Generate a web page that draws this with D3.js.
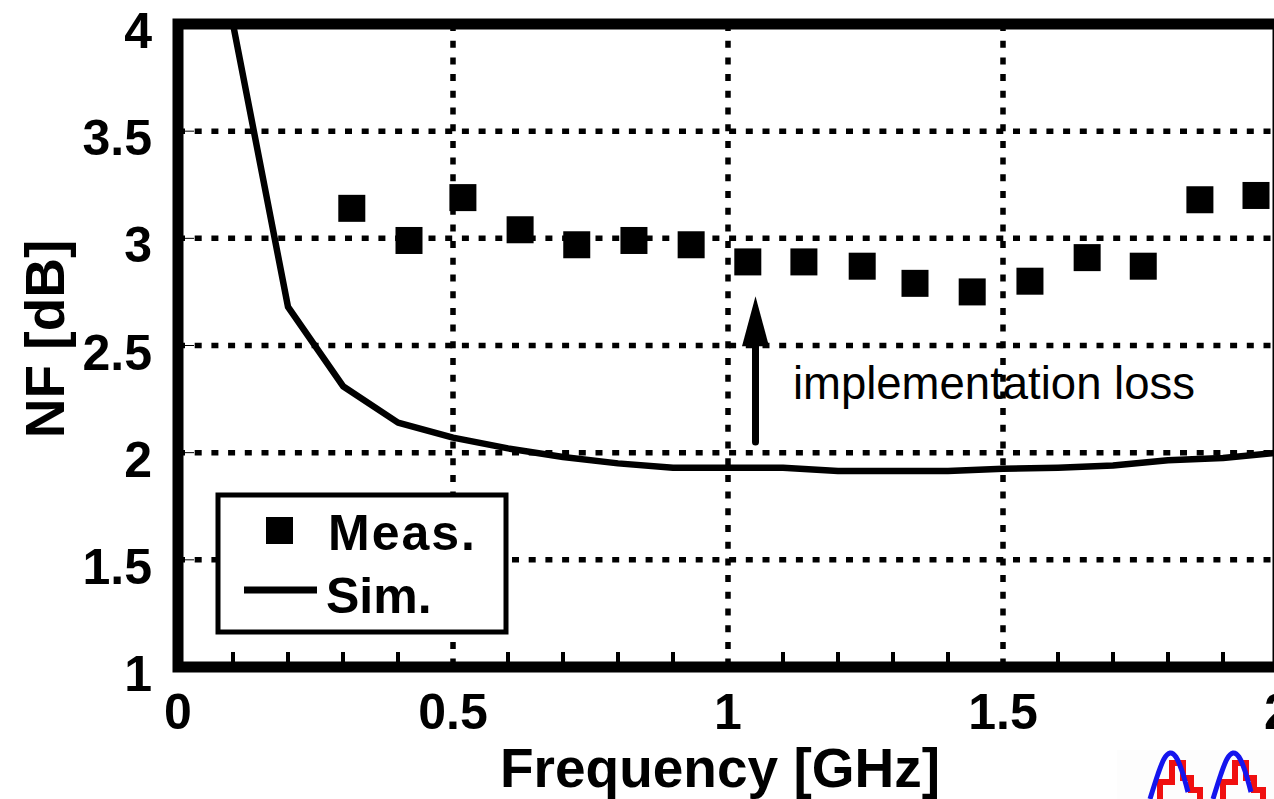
<!DOCTYPE html>
<html>
<head>
<meta charset="utf-8">
<script src="https://cdn.jsdelivr.net/npm/d3@7"></script>
<style>
  html, body { margin: 0; padding: 0; background: #fff; }
  svg { display: block; }
  text { font-family: "Liberation Sans", Arial, Helvetica, sans-serif; }
</style>
</head>
<body>
<svg id="chart" width="1274" height="799"></svg>
<script>
// ---------------- data ----------------
const xTickValues = [0, 0.5, 1, 1.5, 2];
const xTickLabels = ["0", "0.5", "1", "1.5", "2"];
const yTickValues = [1, 1.5, 2, 2.5, 3, 3.5, 4];
const yTickLabels = ["1", "1.5", "2", "2.5", "3", "3.5", "4"];
const xMinorTicks = [0.1,0.2,0.3,0.4,0.6,0.7,0.8,0.9,1.1,1.2,1.3,1.4,1.6,1.7,1.8,1.9];

const measFreq = [0.316, 0.42, 0.518, 0.622, 0.725, 0.829, 0.933, 1.036, 1.138, 1.244, 1.34, 1.444, 1.549, 1.653, 1.755, 1.858, 1.96];
const measNF   = [3.14, 2.99, 3.19, 3.04, 2.97, 2.99, 2.97, 2.89, 2.89, 2.87, 2.79, 2.75, 2.80, 2.91, 2.87, 3.18, 3.20];

const simFreq = [0.1, 0.2, 0.3, 0.4, 0.5, 0.6, 0.7, 0.8, 0.9, 1.0, 1.1, 1.2, 1.3, 1.4, 1.5, 1.6, 1.7, 1.8, 1.9, 2.0];
const simNF   = [4.0, 2.68, 2.31, 2.14, 2.07, 2.02, 1.98, 1.95, 1.93, 1.93, 1.93, 1.915, 1.915, 1.915, 1.925, 1.93, 1.94, 1.965, 1.975, 2.0];

const seriesNames = ["Meas.", "Sim."];
const xTitle = "Frequency [GHz]";
const yTitle = "NF [dB]";
const annotationText = "implementation loss";
const arrowFreq = 1.05, arrowFrom = 2.05, arrowTo = 2.73;
const annotationFreq = 1.118, annotationNF = 2.25;

// ---------------- layout ----------------
const svg = d3.select("#chart");
const x = d3.scaleLinear().domain([0, 2]).range([178, 1278]);
const y = d3.scaleLinear().domain([1, 4]).range([667, 24]);

// gridlines
const grid = svg.append("g");
grid.selectAll("line.h").data(yTickValues.filter(v => v > 1 && v < 4)).enter()
  .append("line")
  .attr("x1", x(0)).attr("x2", x(2))
  .attr("y1", d => y(d)).attr("y2", d => y(d))
  .attr("stroke", "#000").attr("stroke-width", 5.5)
  .attr("stroke-dasharray", "7 9.7");
grid.selectAll("line.v").data(xTickValues.filter(v => v > 0 && v < 2)).enter()
  .append("line")
  .attr("x1", d => x(d)).attr("x2", d => x(d))
  .attr("y1", y(4)).attr("y2", y(1))
  .attr("stroke", "#000").attr("stroke-width", 5.5)
  .attr("stroke-dasharray", "7 9.7");

// thin left ticks
grid.selectAll("line.lt").data(yTickValues.filter(v => v > 1 && v < 4)).enter()
  .append("line")
  .attr("x1", x(0)).attr("x2", x(0) + 16)
  .attr("y1", d => y(d)).attr("y2", d => y(d))
  .attr("stroke", "#000").attr("stroke-width", 1);

// bottom minor ticks
svg.append("g").selectAll("line").data(xMinorTicks).enter()
  .append("line")
  .attr("x1", d => x(d)).attr("x2", d => x(d))
  .attr("y1", y(1)).attr("y2", y(1) - 15)
  .attr("stroke", "#000").attr("stroke-width", 4);

// simulation line
const simData = simFreq.map((f, i) => [f, simNF[i]]);
svg.append("path")
  .datum(simData)
  .attr("fill", "none")
  .attr("stroke", "#000")
  .attr("stroke-width", 6.5)
  .attr("stroke-linejoin", "round")
  .attr("d", d3.line().x(d => x(d[0])).y(d => y(d[1])));

// measured squares
const sq = 27;
svg.append("g").selectAll("rect").data(measFreq.map((f, i) => [f, measNF[i]])).enter()
  .append("rect")
  .attr("x", d => x(d[0]) - sq / 2)
  .attr("y", d => y(d[1]) - sq / 2)
  .attr("width", sq).attr("height", sq)
  .attr("fill", "#000");

// frame
svg.append("rect")
  .attr("x", x(0)).attr("y", y(4))
  .attr("width", x(2) - x(0)).attr("height", y(1) - y(4))
  .attr("fill", "none").attr("stroke", "#000").attr("stroke-width", 11);

// tick labels
svg.append("g").selectAll("text").data(yTickValues).enter()
  .append("text")
  .attr("x", 152).attr("y", d => y(d) + 24)
  .attr("text-anchor", "end")
  .attr("font-size", 50).attr("font-weight", "bold")
  .text((d, i) => yTickLabels[i]);
svg.append("g").selectAll("text").data(xTickValues).enter()
  .append("text")
  .attr("x", d => x(d)).attr("y", 729)
  .attr("text-anchor", "middle")
  .attr("font-size", 50).attr("font-weight", "bold")
  .text((d, i) => xTickLabels[i]);

// axis titles
svg.append("text")
  .attr("x", 720).attr("y", 787)
  .attr("text-anchor", "middle")
  .attr("font-size", 55).attr("font-weight", "bold")
  .text(xTitle);
svg.append("text")
  .attr("transform", "translate(64,339) rotate(-90)")
  .attr("text-anchor", "middle")
  .attr("font-size", 55).attr("font-weight", "bold")
  .text(yTitle);

// legend
const lg = svg.append("g");
lg.append("rect")
  .attr("x", 218).attr("y", 495).attr("width", 288).attr("height", 137)
  .attr("fill", "#fff").attr("stroke", "#000").attr("stroke-width", 5);
lg.append("rect").attr("x", 266).attr("y", 517).attr("width", 27).attr("height", 27).attr("fill", "#000");
lg.append("line").attr("x1", 244).attr("x2", 317).attr("y1", 590).attr("y2", 590)
  .attr("stroke", "#000").attr("stroke-width", 7);
lg.append("text").attr("x", 328).attr("y", 550)
  .attr("font-size", 50).attr("font-weight", "bold").attr("letter-spacing", 2)
  .text(seriesNames[0]);
lg.append("text").attr("x", 326).attr("y", 613)
  .attr("font-size", 50).attr("font-weight", "bold")
  .text(seriesNames[1]);

// annotation arrow
const ax = x(arrowFreq);
svg.append("line")
  .attr("x1", ax).attr("x2", ax)
  .attr("y1", y(arrowFrom)).attr("y2", y(arrowTo) + 48)
  .attr("stroke", "#000").attr("stroke-width", 7).attr("stroke-linecap", "round");
svg.append("path")
  .attr("d", `M${ax},${y(arrowTo)} L${ax - 13.5},${y(arrowTo) + 50} L${ax + 13.5},${y(arrowTo) + 50} Z`)
  .attr("fill", "#000");
svg.append("text")
  .attr("x", x(annotationFreq)).attr("y", y(annotationNF))
  .attr("font-size", 45.5)
  .text(annotationText);

// watermark logo (bottom-right)
const logo = svg.append("g");
logo.append("rect").attr("x", 1117).attr("y", 750).attr("width", 160).attr("height", 60)
  .attr("fill", "#fdfdfd");
const archPts = [[0, 47], [8, 22], [14, 7], [20, 1], [26, 5], [32, 19], [38, 40]];
[1150, 1213].forEach(ox => {
  logo.append("path")
    .attr("d", `M${ox + 10},799 V782 H${ox + 22} V763 H${ox + 33} V778 H${ox + 41} V790 H${ox + 50} V799`)
    .attr("fill", "none").attr("stroke", "#f01010").attr("stroke-width", 6);
  logo.append("path")
    .datum(archPts)
    .attr("fill", "none").attr("stroke", "#1515ee").attr("stroke-width", 5)
    .attr("d", d3.line().x(d => ox + d[0]).y(d => 752 + d[1]).curve(d3.curveCardinal));
});
</script>
</body>
</html>
